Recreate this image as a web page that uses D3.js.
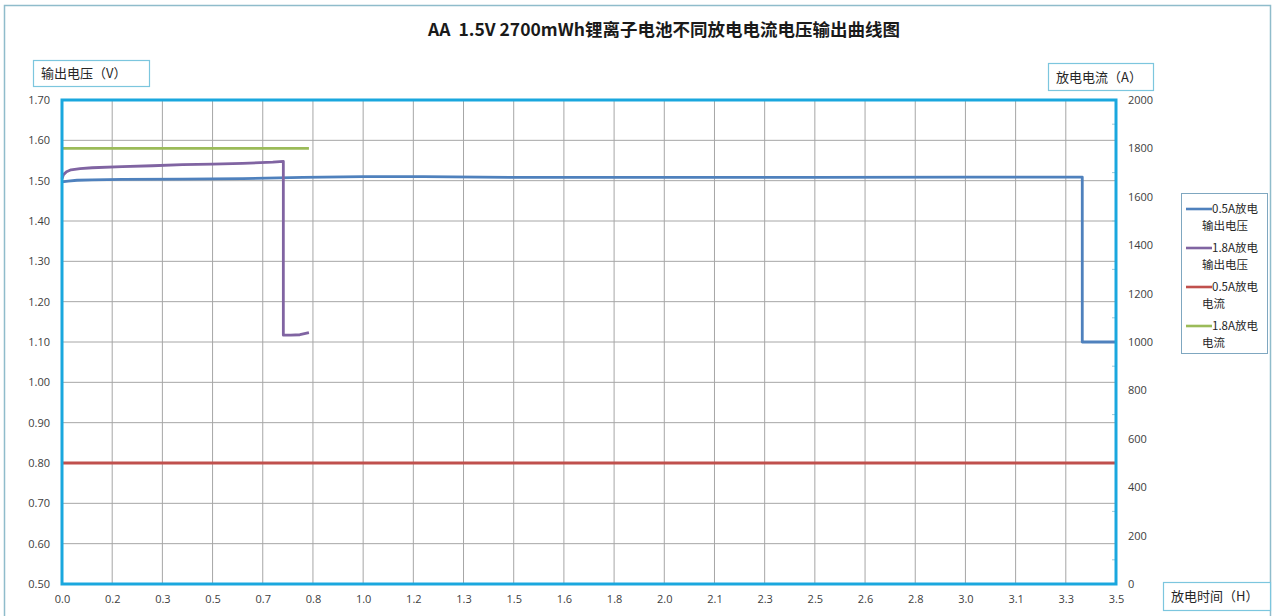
<!DOCTYPE html>
<html><head><meta charset="utf-8">
<script src="https://cdn.jsdelivr.net/npm/d3@7/dist/d3.min.js"></script>
<style>
html,body{margin:0;padding:0;background:#fff;}
svg{display:block;font-family:"Noto Sans CJK SC","Noto Sans",sans-serif;}
</style></head><body>
<svg id="c" width="1273" height="616"></svg>
<script>
// ---- data ----
const chartTitle = "AA  1.5V 2700mWh锂离子电池不同放电电流电压输出曲线图";
const xTickLabels = ["0.0","0.2","0.3","0.5","0.7","0.8","1.0","1.2","1.3","1.5","1.6","1.8","2.0","2.1","2.3","2.5","2.6","2.8","3.0","3.1","3.3","3.5"];
const yLeftTicks = [0.5,0.6,0.7,0.8,0.9,1.0,1.1,1.2,1.3,1.4,1.5,1.6,1.7];
const yRightTicks = [0,200,400,600,800,1000,1200,1400,1600,1800,2000];
const seriesNames = ["0.5A放电|输出电压","1.8A放电|输出电压","0.5A放电|电流","1.8A放电|电流"];

const v05Hours = [0,0.02,0.05,0.1,0.2,0.4,0.6,0.8,1.0,1.2,1.5,2.0,2.5,3.0,3.2,3.388,3.388,3.5];
const v05Volts = [1.497,1.499,1.501,1.502,1.503,1.504,1.505,1.508,1.510,1.510,1.508,1.508,1.508,1.509,1.509,1.509,1.10,1.10];

const v18Hours = [0,0.005,0.015,0.03,0.06,0.1,0.2,0.3,0.4,0.5,0.6,0.7,0.735,0.735,0.76,0.79,0.82];
const v18Volts = [1.505,1.515,1.522,1.527,1.530,1.532,1.535,1.537,1.540,1.541,1.543,1.546,1.548,1.117,1.117,1.118,1.123];

const i05Hours = [0,3.5];
const i05Amps = [500,500];
const i18Hours = [0,0.82];
const i18Amps = [1800,1800];

// ---- layout ----
const svg = d3.select("#c");
const L=62, R=1116, T=100, B=584;
const colors = ["#4f81bd","#8064a2","#c0504d","#9bbb59"];

svg.append("rect").attr("x",4.5).attr("y",5.5).attr("width",1266).attr("height",620)
  .attr("fill","#fff").attr("stroke","#8fbccb").attr("stroke-width",1.5);

const x = d3.scaleLinear().domain([0,3.5]).range([L,R]);
const yL = d3.scaleLinear().domain([0.5,1.7]).range([B,T]);
const yR = d3.scaleLinear().domain([0,2000]).range([B,T]);
const xTickVals = xTickLabels.map((d,i)=>i*3.5/(xTickLabels.length-1));

// gridlines
const g = svg.append("g");
g.selectAll(".hg").data(yLeftTicks).join("line")
  .attr("x1",L).attr("x2",R).attr("y1",d=>yL(d)).attr("y2",d=>yL(d))
  .attr("stroke","#a6a6a6").attr("stroke-width",1);
g.selectAll(".vg").data(xTickVals).join("line")
  .attr("x1",d=>x(d)).attr("x2",d=>x(d)).attr("y1",T).attr("y2",B)
  .attr("stroke","#a6a6a6").attr("stroke-width",1);

// axes
const axL = d3.axisLeft(yL).tickValues(yLeftTicks).tickFormat(d3.format(".2f")).tickSize(0).tickPadding(12);
const axR = d3.axisRight(yR).tickValues(yRightTicks).tickFormat(d3.format("d")).tickSize(0).tickPadding(12);
const axB = d3.axisBottom(x).tickValues(xTickVals).tickFormat((d,i)=>xTickLabels[i]).tickSize(0).tickPadding(11);
function style(sel){
  sel.select(".domain").remove();
  sel.selectAll("text").attr("fill","#404040").style("font-size","11px").style("font-family","'Open Sans','DejaVu Sans',sans-serif");
}
svg.append("g").attr("transform",`translate(${L},0)`).call(axL).call(style);
svg.append("g").attr("transform",`translate(${R},0)`).call(axR).call(style);
svg.append("g").attr("transform",`translate(0,${B})`).call(axB).call(style);
// small right ticks
svg.append("g").selectAll("line").data(yRightTicks.map(d=>d+100).filter(d=>d<2000)).join("line")
  .attr("x1",R-4).attr("x2",R).attr("y1",d=>yR(d)).attr("y2",d=>yR(d)).attr("stroke","#9ec9d8");

// lines
const lineL = d3.line().x(d=>x(d[0])).y(d=>yL(d[1]));
const lineR = d3.line().x(d=>x(d[0])).y(d=>yR(d[1]));
const series = [
  {pts:d3.zip(v05Hours,v05Volts), f:lineL},
  {pts:d3.zip(v18Hours,v18Volts), f:lineL},
  {pts:d3.zip(i05Hours,i05Amps), f:lineR},
  {pts:d3.zip(i18Hours,i18Amps), f:lineR}
];
const plotOrder = [2,3,0,1];
plotOrder.forEach(i=>{
  svg.append("path").attr("d",series[i].f(series[i].pts)).attr("fill","none")
    .attr("stroke",colors[i]).attr("stroke-width",2.8).attr("stroke-linejoin","round");
});

// plot border
svg.append("rect").attr("x",L).attr("y",T).attr("width",R-L).attr("height",B-T)
  .attr("fill","none").attr("stroke","#1aa7de").attr("stroke-width",3);

// title
svg.append("text").attr("x",664).attr("y",36).attr("text-anchor","middle")
  .style("white-space","pre").attr("xml:space","preserve")
  .attr("font-weight","bold").attr("font-size",17.5).attr("fill","#1a1a1a").text(chartTitle);

// axis title boxes
function box(bx,by,w,h,txt){
  svg.append("rect").attr("x",bx+0.5).attr("y",by+0.5).attr("width",w).attr("height",h)
    .attr("fill","#fff").attr("stroke","#7cc6de").attr("stroke-width",1.2);
  svg.append("text").attr("x",bx+8).attr("y",by+h/2+5).attr("font-size",13).attr("fill","#262626").text(txt);
}
box(33,60,116,26,"输出电压（V）");
box(1048,63,105,27,"放电电流（A）");
box(1163,582,107,28,"放电时间（H）");

// legend
const lg = svg.append("g");
lg.append("rect").attr("x",1181.5).attr("y",193.5).attr("width",86).attr("height",160)
  .attr("fill","#fff").attr("stroke","#7fa7c0").attr("stroke-width",1);
const ly = [209,248,287,326];
seriesNames.forEach((n,i)=>{
  const parts = n.split("|");
  lg.append("line").attr("x1",1186).attr("x2",1212).attr("y1",ly[i]).attr("y2",ly[i])
    .attr("stroke",colors[i]).attr("stroke-width",2.6);
  lg.append("text").attr("x",1212).attr("y",ly[i]+4).attr("font-size",11.5).attr("fill","#262626").text(parts[0]);
  lg.append("text").attr("x",1202).attr("y",ly[i]+21).attr("font-size",11.5).attr("fill","#262626").text(parts[1]);
});
</script>
</body></html>
